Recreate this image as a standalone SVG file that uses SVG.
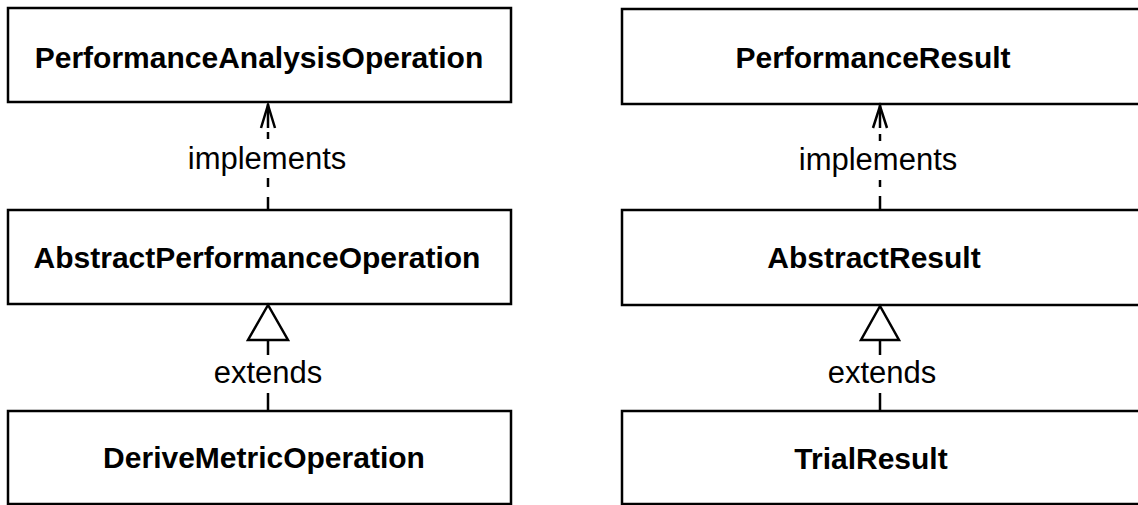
<svg xmlns="http://www.w3.org/2000/svg" width="1138" height="505" viewBox="0 0 1138 505">
  <style>
    .box { fill: #ffffff; stroke: #000000; stroke-width: 2.5; }
    .name { font-family: "Liberation Sans", Arial, sans-serif; font-weight: bold; font-size: 30px; text-anchor: middle; fill: #000000; }
    .label { font-family: "Liberation Sans", Arial, sans-serif; font-size: 31px; text-anchor: middle; fill: #000000; }
    .edge { stroke: #000000; stroke-width: 2.5; fill: none; }
    .open-arrow { stroke: #000000; stroke-width: 2.5; fill: none; stroke-linejoin: miter; }
    .triangle { stroke: #000000; stroke-width: 2.5; fill: #ffffff; stroke-linejoin: miter; }
  </style>
  <rect width="1138" height="505" fill="#ffffff"/>

  <!-- left hierarchy -->
  <g id="performance-analysis-operation">
    <rect class="box" x="8" y="8" width="503" height="94"/>
    <text class="name" x="259" y="68">PerformanceAnalysisOperation</text>
  </g>
  <g id="abstract-performance-operation">
    <rect class="box" x="8" y="210" width="503" height="94"/>
    <text class="name" x="257" y="268">AbstractPerformanceOperation</text>
  </g>
  <g id="derive-metric-operation">
    <rect class="box" x="8" y="411" width="503" height="93"/>
    <text class="name" x="264" y="468">DeriveMetricOperation</text>
  </g>

  <!-- right hierarchy -->
  <g id="performance-result">
    <rect class="box" x="622" y="9" width="520" height="95"/>
    <text class="name" x="873" y="68">PerformanceResult</text>
  </g>
  <g id="abstract-result">
    <rect class="box" x="622" y="210" width="520" height="95"/>
    <text class="name" x="874" y="268">AbstractResult</text>
  </g>
  <g id="trial-result">
    <rect class="box" x="622" y="411" width="520" height="93"/>
    <text class="name" x="871" y="469">TrialResult</text>
  </g>

  <!-- connectors -->
  <g id="connectors">
    <!-- implements (left) -->
    <line class="edge" x1="268" y1="104" x2="268" y2="128"/>
    <polyline class="open-arrow" points="261,128 268,105 275,128"/>
    <line class="edge" x1="268" y1="132" x2="268" y2="139"/>
    <line class="edge" x1="268" y1="178" x2="268" y2="187"/>
    <line class="edge" x1="268" y1="197" x2="268" y2="210"/>
    <text class="label" x="267" y="169">implements</text>

    <!-- extends (left) -->
    <polygon class="triangle" points="268,305 248,340 288,340"/>
    <line class="edge" x1="268" y1="340" x2="268" y2="355"/>
    <line class="edge" x1="268" y1="393" x2="268" y2="411"/>
    <text class="label" x="268" y="383">extends</text>

    <!-- implements (right) -->
    <line class="edge" x1="880" y1="105" x2="880" y2="128"/>
    <polyline class="open-arrow" points="873,128 880,106 887,128"/>
    <line class="edge" x1="880" y1="134" x2="880" y2="141"/>
    <line class="edge" x1="880" y1="180" x2="880" y2="187"/>
    <line class="edge" x1="880" y1="196" x2="880" y2="210"/>
    <text class="label" x="878" y="170">implements</text>

    <!-- extends (right) -->
    <polygon class="triangle" points="880,306 861,340 899,340"/>
    <line class="edge" x1="880" y1="340" x2="880" y2="355"/>
    <line class="edge" x1="880" y1="393" x2="880" y2="411"/>
    <text class="label" x="882" y="383">extends</text>
  </g>
</svg>
